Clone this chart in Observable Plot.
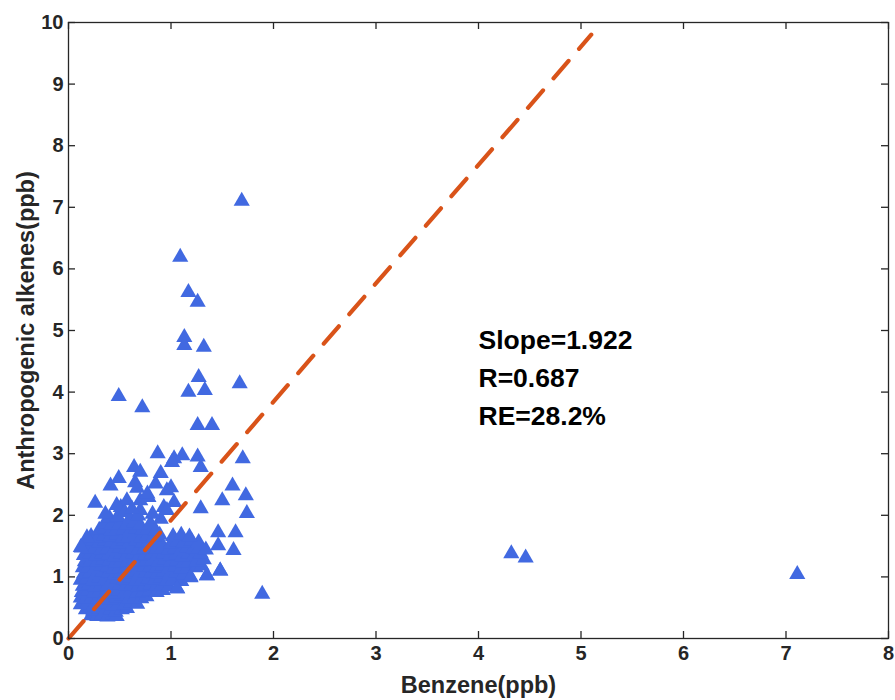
<!DOCTYPE html>
<html><head><meta charset="utf-8">
<script src="https://cdn.jsdelivr.net/npm/d3@7"></script>
<script src="https://cdn.jsdelivr.net/npm/@observablehq/plot@0.6"></script>
<style>body{margin:0;background:#fff}</style>
</head><body><div id="chart"></div>
<script>
// Benzene (ppb) values
const benzene = [
  // dense cluster rows
  0.22,0.28,0.33,0.38,0.43,0.47,
  0.17,0.24,0.30,0.36,0.41,0.46,0.52,0.57,
  0.12,0.19,0.25,0.31,0.37,0.43,0.49,0.55,0.61,0.67,
  0.12,0.17,0.23,0.29,0.35,0.41,0.47,0.53,0.59,0.65,0.71,0.76,
  0.13,0.19,0.25,0.31,0.37,0.43,0.49,0.55,0.61,0.67,0.73,0.79,0.86,0.92,
  0.14,0.20,0.26,0.32,0.38,0.44,0.50,0.56,0.62,0.68,0.74,0.80,0.86,0.92,0.98,1.06,
  0.12,0.18,0.24,0.30,0.36,0.42,0.48,0.54,0.60,0.66,0.72,0.78,0.84,0.90,0.96,1.02,1.10,1.19,1.35,
  0.15,0.21,0.27,0.33,0.39,0.45,0.51,0.57,0.63,0.69,0.75,0.81,0.87,0.93,0.99,1.05,1.12,1.48,
  0.14,0.20,0.26,0.32,0.38,0.44,0.50,0.56,0.62,0.68,0.74,0.80,0.86,0.92,0.98,1.04,1.10,1.17,1.24,1.30,
  0.16,0.22,0.28,0.34,0.40,0.46,0.52,0.58,0.64,0.70,0.76,0.82,0.88,0.94,1.00,1.06,1.12,1.18,1.25,1.32,
  0.15,0.21,0.27,0.33,0.39,0.45,0.51,0.57,0.63,0.69,0.75,0.81,0.87,0.93,0.99,1.05,1.11,1.17,1.23,1.29,
  0.13,0.20,0.26,0.32,0.38,0.44,0.50,0.56,0.62,0.68,0.74,0.80,0.86,0.92,0.98,1.04,1.10,1.16,1.22,1.28,1.34,
  0.18,0.24,0.30,0.36,0.42,0.48,0.54,0.60,0.66,0.72,0.78,0.84,0.90,1.00,1.06,1.12,1.20,1.27,
  0.22,0.29,0.35,0.41,0.47,0.53,0.59,0.65,0.71,0.77,0.83,0.89,1.02,1.10,1.18,
  0.30,0.36,0.42,0.48,0.54,0.60,0.66,0.72,0.78,0.85,
  0.35,0.42,0.50,0.57,0.64,0.70,0.80,
  0.40,0.48,0.60,0.68,0.90,
  // sparse upper part of cluster
  0.87,1.03,1.11,1.26,1.29,1.01,0.64,0.70,0.90,0.49,0.41,0.65,0.85,1.00,0.26,0.51,0.57,
  0.70,0.78,0.93,1.03,1.29,0.67,0.77,0.47,0.70,0.96,0.96,0.55,0.62,0.82,0.18,0.12,0.36,
  // right side of cluster
  1.70,1.60,1.73,1.74,1.50,1.46,1.63,1.46,1.61,1.48,1.35,1.19,1.06,1.89,
  // high outliers
  1.69,1.09,1.17,1.26,1.13,1.13,1.32,1.27,1.17,1.33,1.67,0.72,0.49,1.26,1.40,
  // far outliers
  4.32,4.46,7.11
];
// Anthropogenic alkenes (ppb) values, same order
const alkenes = [
  0.37,0.36,0.39,0.35,0.38,0.36,
  0.47,0.45,0.48,0.44,0.46,0.43,0.47,0.49,
  0.55,0.57,0.54,0.58,0.56,0.53,0.57,0.55,0.58,0.56,
  0.66,0.64,0.67,0.65,0.68,0.63,0.66,0.69,0.64,0.67,0.65,0.68,
  0.75,0.77,0.74,0.78,0.76,0.73,0.77,0.75,0.78,0.74,0.76,0.77,0.75,0.78,
  0.85,0.87,0.84,0.88,0.86,0.83,0.87,0.85,0.88,0.84,0.86,0.87,0.85,0.88,0.84,0.81,
  0.95,0.97,0.94,0.98,0.96,0.93,0.97,0.95,0.98,0.94,0.96,0.97,0.95,0.98,0.94,0.96,0.93,1.00,1.02,
  1.05,1.07,1.04,1.08,1.06,1.03,1.07,1.05,1.08,1.04,1.06,1.07,1.05,1.08,1.04,1.06,1.03,1.10,
  1.15,1.17,1.14,1.18,1.16,1.13,1.17,1.15,1.18,1.14,1.16,1.17,1.15,1.18,1.14,1.16,1.13,1.17,1.15,1.18,
  1.25,1.27,1.24,1.28,1.26,1.23,1.27,1.25,1.28,1.24,1.26,1.27,1.25,1.28,1.24,1.26,1.23,1.27,1.25,1.28,
  1.35,1.37,1.34,1.38,1.36,1.33,1.37,1.35,1.38,1.34,1.36,1.37,1.35,1.38,1.34,1.36,1.33,1.37,1.35,1.38,
  1.47,1.45,1.48,1.44,1.46,1.43,1.47,1.45,1.48,1.44,1.46,1.47,1.45,1.48,1.44,1.46,1.43,1.47,1.45,1.48,1.44,
  1.56,1.58,1.55,1.59,1.57,1.54,1.58,1.56,1.59,1.55,1.57,1.58,1.56,1.54,1.57,1.55,1.58,1.56,
  1.66,1.64,1.67,1.65,1.68,1.63,1.66,1.69,1.64,1.67,1.65,1.68,1.66,1.68,1.65,
  1.76,1.78,1.75,1.79,1.77,1.74,1.78,1.76,1.79,1.75,
  1.86,1.84,1.87,1.85,1.88,1.84,1.87,
  1.96,1.98,1.95,1.99,1.94,
  3.00,2.92,2.97,2.95,2.78,2.86,2.78,2.70,2.68,2.60,2.48,2.53,2.51,2.45,2.20,2.13,2.24,
  2.24,2.29,2.13,2.21,2.11,2.44,2.35,2.16,2.08,2.40,2.08,2.05,2.10,2.02,1.64,1.48,2.02,
  2.92,2.48,2.32,2.03,2.24,1.72,1.72,1.51,1.43,1.10,1.02,0.99,0.81,0.72,
  7.10,6.19,5.62,5.46,4.89,4.76,4.73,4.24,4.00,4.03,4.14,3.75,3.93,3.46,3.46,
  1.38,1.31,1.04
];
const fitSlope = 1.922;
const fitX = [0, 5.1];
const statsLines = ["Slope=1.922", "R=0.687", "RE=28.2%"];
const statsPos = [4.0, 5.13];
const xTicks = [0, 1, 2, 3, 4, 5, 6, 7, 8];
const yTicks = [0, 1, 2, 3, 4, 5, 6, 7, 8, 9, 10];
const xLabel = "Benzene(ppb)";
const yLabel = "Anthropogenic alkenes(ppb)";

const points = benzene.map((x, i) => ({x, y: alkenes[i]}));
const fit = fitX.map(x => ({x, y: fitSlope * x}));
const axisColor = "#262626";
const font = "'Liberation Sans', Arial, Helvetica, sans-serif";
const fmt = d => String(d);

const chart = Plot.plot({
  width: 895,
  height: 700,
  marginLeft: 68,
  marginRight: 7,
  marginTop: 22,
  marginBottom: 62,
  x: {domain: [0, 8]},
  y: {domain: [0, 10]},
  style: {fontFamily: font, fontWeight: "bold", color: axisColor, background: "white", overflow: "visible"},
  marks: [
    Plot.dot(points, {x: "x", y: "y", symbol: "triangle", r: 6, fill: "#4169E1"}),
    Plot.line(fit, {x: "x", y: "y", stroke: "#D95319", strokeWidth: 4.2, strokeDasharray: "23,16"}),
    Plot.frame({stroke: axisColor, strokeWidth: 1.3}),
    Plot.tickX(xTicks, {x: d => d, insetTop: 609, stroke: axisColor, strokeWidth: 1.3}),
    Plot.tickX(xTicks, {x: d => d, insetBottom: 609, stroke: axisColor, strokeWidth: 1.3}),
    Plot.tickY(yTicks, {y: d => d, insetRight: 813, stroke: axisColor, strokeWidth: 1.3}),
    Plot.tickY(yTicks, {y: d => d, insetLeft: 813, stroke: axisColor, strokeWidth: 1.3}),
    Plot.axisX(xTicks, {tickSize: 0, tickPadding: 7, fontSize: 20, tickFormat: fmt, label: null, fill: axisColor}),
    Plot.axisY(yTicks, {tickSize: 0, tickPadding: 5, fontSize: 20, tickFormat: fmt, label: null, fill: axisColor}),
    Plot.text([xLabel], {text: d => d, frameAnchor: "bottom", dy: 47, textAnchor: "middle", lineAnchor: "middle", fontSize: 23.5, fill: axisColor}),
    Plot.text([yLabel], {text: d => d, frameAnchor: "left", rotate: -90, dx: -42, textAnchor: "middle", lineAnchor: "middle", fontSize: 23.5, fill: axisColor}),
    Plot.text([statsLines.join("\n")], {text: d => d, x: () => statsPos[0], y: () => statsPos[1], textAnchor: "start", lineAnchor: "top", fontSize: 26.5, lineHeight: 1.43, fill: "#000"})
  ]
});
document.getElementById("chart").appendChild(chart);
</script>
</body></html>
